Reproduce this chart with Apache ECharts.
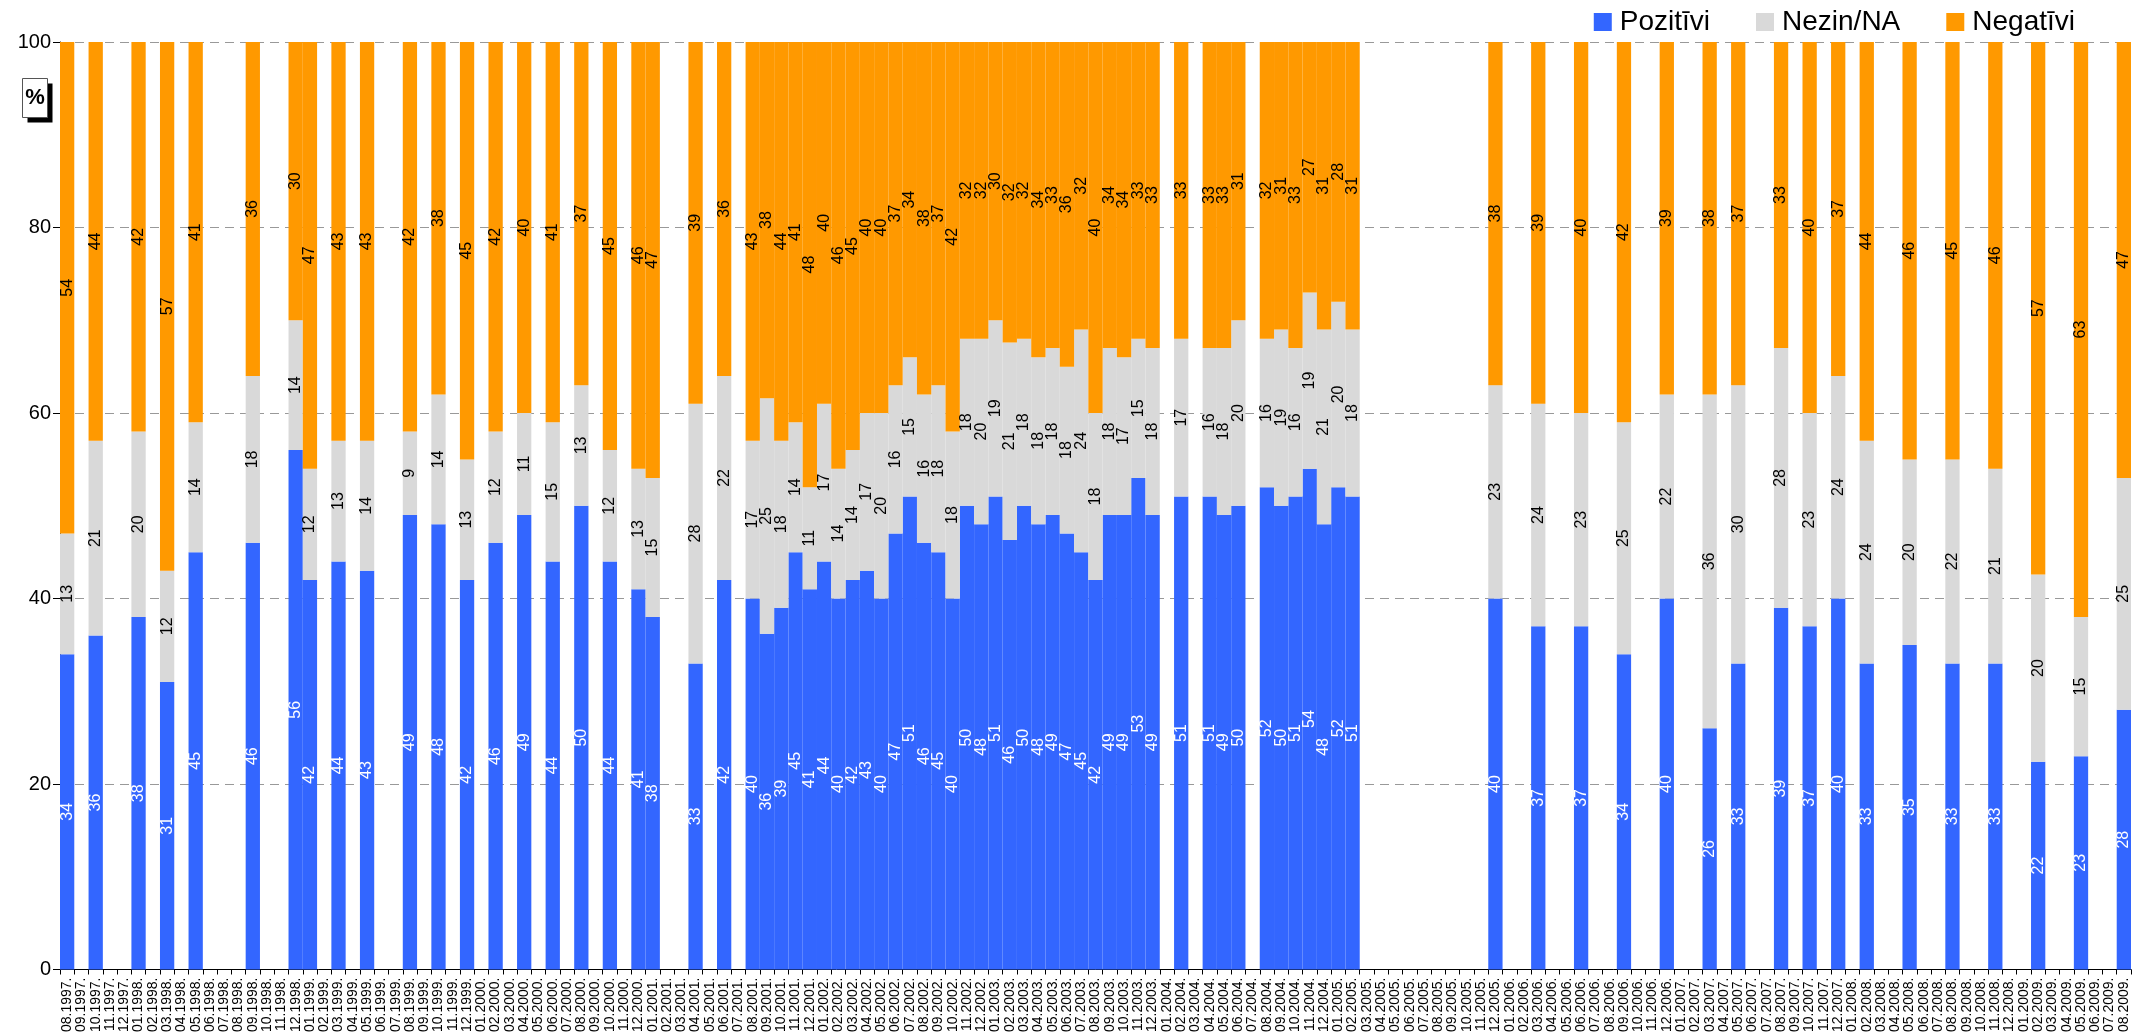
<!DOCTYPE html>
<html>
<head>
<meta charset="utf-8">
<script src="https://cdn.jsdelivr.net/npm/echarts@6/dist/echarts.min.js"></script>
<style>
html,body{margin:0;padding:0;background:#fff;}
#chart{width:2138px;height:1035px;}
</style>
</head>
<body>
<div id="chart"></div>
<script>
// Category axis: every month from 08.1997 to 08.2009
const categories = [];
for (let y = 1997, m = 8; y < 2009 || (y === 2009 && m <= 8); ) {
  categories.push((m < 10 ? '0' + m : '' + m) + '.' + y + '.');
  m++; if (m > 12) { m = 1; y++; }
}

const seriesNames = ['Pozitīvi', 'Nezin/NA', 'Negatīvi'];
const yTicks = [0, 20, 40, 60, 80, 100];

// Survey months that have data
const surveyMonths = [
  '08.1997.','10.1997.','01.1998.','03.1998.','05.1998.','09.1998.','12.1998.','01.1999.','03.1999.','05.1999.',
  '08.1999.','10.1999.','12.1999.','02.2000.','04.2000.','06.2000.','08.2000.','10.2000.','12.2000.','01.2001.',
  '04.2001.','06.2001.',
  '08.2001.','09.2001.','10.2001.','11.2001.','12.2001.','01.2002.','02.2002.','03.2002.','04.2002.','05.2002.',
  '06.2002.','07.2002.','08.2002.','09.2002.','10.2002.','11.2002.','12.2002.','01.2003.','02.2003.','03.2003.',
  '04.2003.','05.2003.','06.2003.','07.2003.','08.2003.','09.2003.','10.2003.','11.2003.','12.2003.',
  '02.2004.','04.2004.','05.2004.','06.2004.','08.2004.','09.2004.','10.2004.','11.2004.','12.2004.','01.2005.','02.2005.',
  '12.2005.','03.2006.','06.2006.','09.2006.','12.2006.','03.2007.','05.2007.','08.2007.','10.2007.','12.2007.',
  '02.2008.','05.2008.','08.2008.','11.2008.','02.2009.','05.2009.','08.2009.'
];
const pozitivi = [
  34,36,38,31,45,46,56,42,44,43,
  49,48,42,46,49,44,50,44,41,38,
  33,42,
  40,36.2,39,45,41,44,40,42,43,40,
  47,51,46,45,40,50,48,51,46.3,50,
  48,49,47,45,42,49,49,53,49,
  51,51,49,50,52,50,51,54,48,52,51,
  40,37,37,34,40,26,33,39,37,40,
  33,35,33,33,22.4,23,28
];
const nezin = [
  13,21,20,12,14,18,14,12,13,14,
  9,14,13,12,11,15,13,12,13,15,
  28,22,
  17,25.4,18,14,11,17,14,14,17,20,
  16,15,16,18,18,18,20,19,21.3,18,
  18,18,18,24,18,18,17,15,18,
  17,16,18,20,16,19,16,19,21,20,18,
  23,24,23,25,22,36,30,28,23,24,
  24,20,22,21,20.2,15,25
];
const negativi = [
  54,44,42,57,41,36,30,47,43,43,
  42,38,45,42,40,41,37,45,46,47,
  39,36,
  43,38.4,44,41,48,40,46,45,40,40,
  37,34,38,37,42,32,32,30,32.4,32,
  34,33,36,32,40,34,34,33,33,
  33,33,33,31,32,31,33,27,31,28,31,
  38,39,40,42,39,38,37,33,40,37,
  44,46,45,46,57.4,63,47
];

function fullSeries(vals) {
  const arr = categories.map(() => null);
  surveyMonths.forEach((m, i) => { arr[categories.indexOf(m)] = vals[i]; });
  return arr;
}

const FONT = 'Liberation Sans, Arial, sans-serif';
const colors = ['#3366FF', '#D9D9D9', '#FF9900'];
const labelColors = ['#ffffff', '#000000', '#000000'];
const valueSets = [pozitivi, nezin, negativi];

const chart = echarts.init(document.getElementById('chart'), null, {renderer: 'canvas'});
chart.setOption({
  animation: false,
  textStyle: {fontFamily: FONT},
  grid: {left: 60, right: 7, top: 42, bottom: 65, containLabel: false},
  legend: {
    data: seriesNames,
    right: 58, top: 3,
    itemWidth: 18, itemHeight: 18, itemGap: 46,
    icon: 'rect',
    textStyle: {fontSize: 28, color: '#000', fontFamily: FONT, padding: [0, 0, 0, 3]}
  },
  xAxis: {
    type: 'category',
    data: categories,
    boundaryGap: true,
    axisLine: {lineStyle: {color: '#000', width: 1}},
    axisTick: {show: true, interval: 0, length: 5, lineStyle: {color: '#000'}},
    axisLabel: {interval: 0, rotate: 90, fontSize: 14, color: '#000', margin: 8, fontFamily: FONT},
    splitLine: {show: false}
  },
  yAxis: {
    type: 'value',
    min: yTicks[0], max: yTicks[yTicks.length - 1], interval: yTicks[1] - yTicks[0],
    axisLine: {show: true, lineStyle: {color: '#000', width: 1}},
    axisTick: {show: true, length: 7, lineStyle: {color: '#000'}},
    axisLabel: {fontSize: 20, color: '#000', margin: 9, fontFamily: FONT},
    splitLine: {show: true, lineStyle: {color: '#999', type: [9, 6], width: 1}}
  },
  graphic: [{
    type: 'group', left: 22, top: 78,
    children: [
      {type: 'rect', shape: {x: 5, y: 5, width: 25, height: 39}, style: {fill: '#000'}},
      {type: 'rect', shape: {x: 0, y: 0, width: 25, height: 39}, style: {fill: '#fff', stroke: '#555', lineWidth: 1}},
      {type: 'text', x: 12.5, y: 19.5, style: {text: '%', fontSize: 22, fontWeight: 'bold', fill: '#000', align: 'center', verticalAlign: 'middle', fontFamily: FONT}}
    ]
  }],
  series: seriesNames.map((name, k) => ({
    name: name,
    type: 'bar',
    stack: 'total',
    barCategoryGap: '0%',
    data: fullSeries(valueSets[k]),
    itemStyle: {color: colors[k]},
    label: {
      show: true,
      position: 'inside',
      rotate: 90,
      fontSize: 16,
      color: labelColors[k],
      fontFamily: FONT,
      formatter: p => (p.value == null ? '' : Math.round(p.value))
    }
  }))
});
</script>
</body>
</html>
